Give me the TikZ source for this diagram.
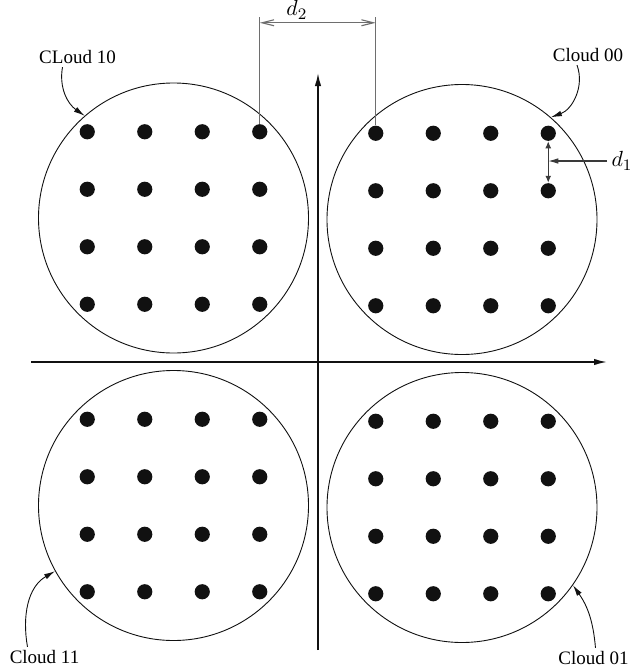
\documentclass[tikz,border=0pt]{standalone}
\usepackage{fontspec}
\setmainfont{Liberation Serif}
\usetikzlibrary{arrows.meta,calc}
\definecolor{ink}{HTML}{111111}
\definecolor{dimgray}{HTML}{6E6E6E}
\definecolor{dimdark}{HTML}{3A3A3A}
\newcommand{\lbl}{\fontsize{9.5}{11}\selectfont}
\newcommand{\dimfont}{\fontsize{11}{13}\selectfont}

\begin{document}
\begin{tikzpicture}[x=0.5pt,y=0.5pt,font=\lbl,
  cloud/.style={draw=ink,circle,line width=0.45pt,minimum size=135pt,inner sep=0},
  dot/.style={fill=ink,circle,minimum size=7.6pt,inner sep=0},
  axis/.style={ink,line width=0.75pt,-{Latex[length=6.5pt,width=3.2pt]}},
  pointer/.style={ink,line width=0.45pt,-{Latex[length=5.5pt,width=2.8pt]}},
  dimline/.style={dimgray,line width=0.55pt}]
\useasboundingbox (0,0) rectangle (632,-670);

% axes
\coordinate (xl) at (31,-362);
\coordinate (xr) at (607,-362);
\coordinate (yb) at (318,-650);
\coordinate (yt) at (318,-73);
\draw[axis] (xl) -- (xr);
\draw[axis] (yb) -- (yt);

% four clouds of 4x4 points
\foreach \nm/\cx/\cy in {tl/173.5/-218,tr/462/-219.5,bl/173.5/-505.5,br/462/-507.5}{
  \node[cloud] (\nm) at (\cx,\cy) {};
  \foreach \i in {1,...,4}
    \foreach \j in {1,...,4}
      \node[dot] (\nm-\i\j) at ({\cx+(\i-2.5)*57.5},{\cy-(\j-2.5)*57.5}) {};
}

\node[inner sep=1.5pt] (lab10) at (77.5,-57) {CLoud 10};
\node[inner sep=1.5pt] (lab00) at (588,-55) {Cloud 00};
\node[inner sep=1.5pt] (lab11) at (44.5,-657) {Cloud 11};
\node[inner sep=1.5pt] (lab01) at (593.5,-658) {Cloud 01};
\draw[pointer] ($(lab10.south)+(-15,0)$) to[out=-100,in=145] (tl.131);
\draw[pointer] ($(lab00.south)+(-11,0)$) to[out=-70,in=20] (tr.49.5);
\draw[pointer] ($(lab11.north)+(-17,0)$) to[out=100,in=-150] (bl.209);
\draw[pointer] ($(lab01.north)+(2,0)$) to[out=95,in=-55] (br.325.5);

% d2: gap between the clouds
\coordinate (d2top) at ($(tl-41)+(0,115)$);
\coordinate (d2l) at ($(tl-41)+(0,109)$);
\coordinate (d2r) at (d2l -| tr-11);
\draw[dimline] (tl-41.north) -- (d2top);
\draw[dimline] (tr-11.north) -- (tr-11 |- d2top);
\draw[dimline,{Straight Barb[length=6pt,width=3pt]}-{Straight Barb[length=6pt,width=3pt]}]
  (d2l) -- (d2r) node[pos=.32,above,font=\dimfont,text=black,inner sep=1.5pt] {$d_2$};

% d1: spacing of the points
\draw[dimline,draw=dimdark,{Latex[length=3.5pt,width=3pt]}-{Latex[length=3.5pt,width=3pt]}] (tr-41.south) -- (tr-42.north);
\node[font=\dimfont,inner sep=2pt] (d1) at (622,-161) {$d_1$};
\draw[dimline,draw=dimdark,-{Latex[length=5pt,width=2.8pt]}] (d1.west) -- (d1.west -| tr-41);
\end{tikzpicture}
\end{document}
